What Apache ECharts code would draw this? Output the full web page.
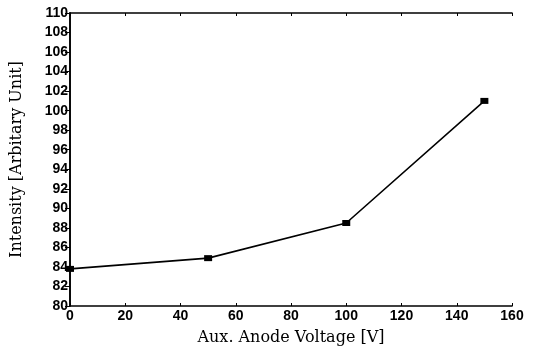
<!DOCTYPE html>
<html>
<head>
<meta charset="utf-8">
<script src="https://cdn.jsdelivr.net/npm/echarts@6/dist/echarts.min.js"></script>
<style>
html,body{margin:0;padding:0;background:#fff;}
#chart{width:536px;height:351px;}
</style>
</head>
<body>
<div id="chart"></div>
<script>
// Measured intensity vs auxiliary anode voltage
const voltages = [0, 50, 100, 150];
const intensities = [83.8, 84.9, 88.5, 101.0];
const xTitle = 'Aux. Anode Voltage [V]';
const yTitle = 'Intensity [Arbitary Unit]';

const points = voltages.map((v, i) => [v, intensities[i]]);
const labelFont = { color: '#000', fontFamily: 'Liberation Sans, Arial, sans-serif', fontWeight: 'bold', fontSize: 14 };
const titleFont = { color: '#000', fontFamily: 'DejaVu Serif, serif', fontSize: 16 };
const lineStyle = { color: '#000', width: 1.6 };

const chart = echarts.init(document.getElementById('chart'), null, { renderer: 'canvas' });
chart.setOption({
  animation: false,
  backgroundColor: '#fff',
  grid: { left: 70, right: 24, top: 13, bottom: 45 },
  xAxis: [{
    type: 'value', min: 0, max: 160, interval: 20, position: 'bottom',
    name: xTitle, nameLocation: 'middle', nameGap: 24, nameTextStyle: titleFont,
    axisLine: { lineStyle },
    axisTick: { inside: true, length: 3, lineStyle: { color: '#000' } },
    axisLabel: Object.assign({ margin: 3 }, labelFont),
    splitLine: { show: false }
  }, {
    type: 'value', min: 0, max: 160, interval: 20, position: 'top',
    axisLine: { lineStyle },
    axisTick: { inside: true, length: 3, lineStyle: { color: '#000' } },
    axisLabel: { show: false }, splitLine: { show: false }
  }],
  yAxis: [{
    type: 'value', min: 80, max: 110, interval: 2, position: 'left',
    name: yTitle, nameLocation: 'middle', nameGap: 45, nameTextStyle: titleFont,
    axisLine: { lineStyle },
    axisTick: { inside: false, length: 5, lineStyle: { color: '#000' } },
    axisLabel: Object.assign({ margin: 2 }, labelFont),
    splitLine: { show: false }
  }, {
    type: 'value', min: 80, max: 110, interval: 2, position: 'right',
    axisLine: { lineStyle },
    axisTick: { inside: true, length: 3, lineStyle: { color: '#000' } },
    axisLabel: { show: false }, splitLine: { show: false }
  }],
  series: [{
    type: 'line', data: points,
    symbol: 'rect', symbolSize: [8, 6],
    itemStyle: { color: '#000' },
    lineStyle: { color: '#000', width: 1.6 }
  }]
});
</script>
</body>
</html>
